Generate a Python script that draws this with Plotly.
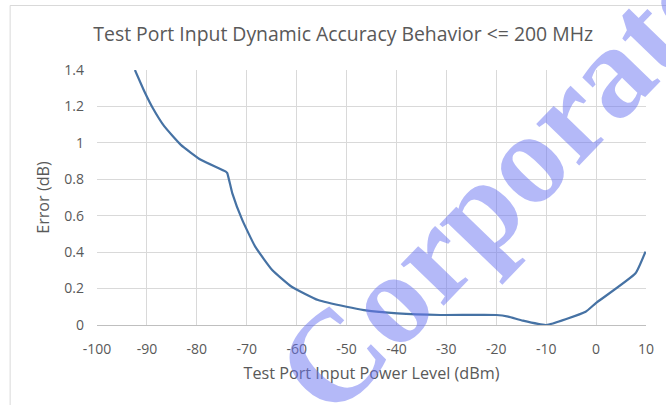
import plotly.graph_objects as go

# Data
power_dbm = [-92.4, -90.5, -88.8, -86.5, -83.2, -79.2, -74.2, -73.9, -72.9, -70.9,
             -68.3, -64.9, -61.0, -55.7, -50.0, -46.5, -39.8, -31.2, -20.0, -17.6,
             -14.7, -10.0, -2.1, -0.1, 7.9, 9.9]
error_db = [1.40, 1.282, 1.19, 1.09, 0.989, 0.907, 0.842, 0.834, 0.724, 0.577,
            0.43, 0.302, 0.21, 0.137, 0.10, 0.082, 0.064, 0.055, 0.055, 0.046,
            0.024, 0.0, 0.073, 0.119, 0.284, 0.403]

x_ticks = [-100, -90, -80, -70, -60, -50, -40, -30, -20, -10, 0, 10]
x_labels = ["-100", "-90", "-80", "-70", "-60", "-50", "-40", "-30", "-20", "-10", "0", "10"]
y_ticks = [0, 0.2, 0.4, 0.6, 0.8, 1.0, 1.2, 1.4]
y_labels = ["0", "0.2", "0.4", "0.6", "0.8", "1", "1.2", "1.4"]

title_text = "Test Port Input Dynamic Accuracy Behavior <= 200 MHz"
x_title = "Test Port Input Power Level (dBm)"
y_title = "Error (dB)"
watermark = "Corporate"

W, H = 666, 405
L, R, T, B = 97, 16, 70, 80
pw, ph = W - L - R, H - T - B

def px_x(p):
    return (p - L) / pw

def px_y(p):
    return (H - B - p) / ph

fig = go.Figure()
fig.add_trace(go.Scatter(
    x=power_dbm, y=error_db, mode="lines",
    line=dict(color="#4672a4", width=2.2, shape="spline", smoothing=0.4),
    showlegend=False, cliponaxis=True,
))

grey = "#595959"
fig.update_layout(
    width=W, height=H,
    margin=dict(l=L, r=R, t=T, b=B),
    paper_bgcolor="white", plot_bgcolor="white",
    font=dict(family="Open Sans", color=grey),
    title=dict(text=title_text, x=px_x(345), xanchor="center", xref="paper",
               y=1 - 34 / H, yanchor="middle",
               font=dict(family="Open Sans", size=19.4, color=grey)),
    xaxis=dict(range=[-100, 10], tickvals=x_ticks, ticktext=x_labels, showgrid=True,
               gridcolor="#d9d9d9", gridwidth=1, zeroline=False,
               showline=True, linecolor="#bfbfbf", linewidth=1,
               ticks="", ticklabelstandoff=11,
               tickfont=dict(size=14, color=grey),
               title=dict(text=x_title, font=dict(size=16.2, color=grey), standoff=10)),
    yaxis=dict(range=[0, 1.4], tickvals=y_ticks, ticktext=y_labels, showgrid=True,
               gridcolor="#d9d9d9", gridwidth=1, zeroline=False,
               showline=False, ticks="", ticklabelstandoff=12,
               tickfont=dict(size=14, color=grey),
               title=dict(text=y_title, font=dict(size=16.2, color=grey), standoff=10)),
    shapes=[dict(type="rect", xref="paper", yref="paper",
                 x0=px_x(9.5), x1=px_x(700), y0=px_y(450), y1=px_y(5.5),
                 line=dict(color="#d9d9d9", width=1), fillcolor="rgba(0,0,0,0)",
                 layer="below")],
    annotations=[dict(text="<b>" + watermark + "</b>", xref="paper", yref="paper",
                      x=px_x(503), y=px_y(184), xanchor="center", yanchor="middle",
                      showarrow=False, textangle=-46,
                      font=dict(family="Liberation Serif", size=130,
                                color="rgba(105,115,242,0.5)"))],
)

fig.write_html("out.html", config={"displayModeBar": False},
               post_script="document.body.style.margin='0';")
